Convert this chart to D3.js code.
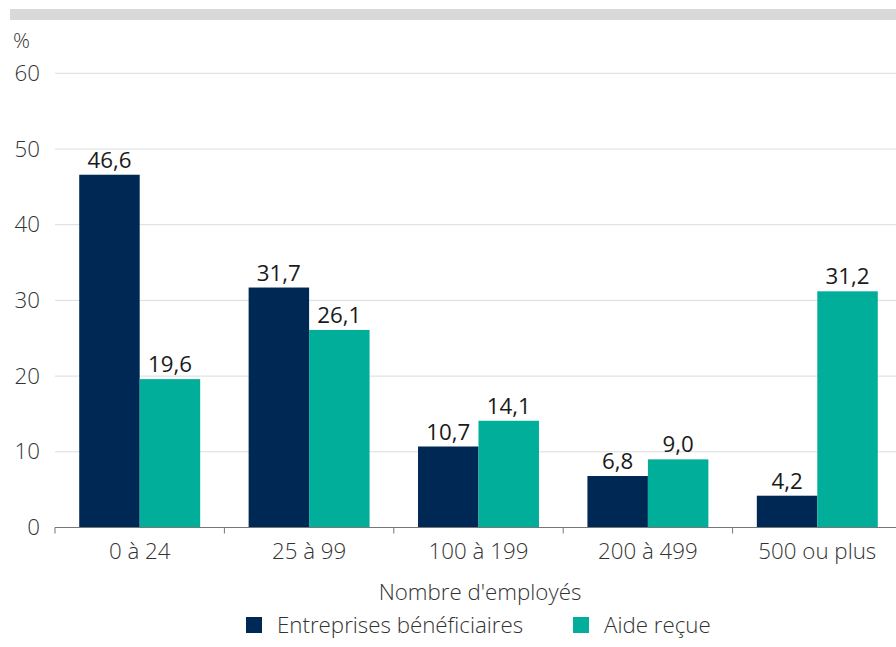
<!DOCTYPE html>
<html lang="fr">
<head>
<meta charset="utf-8">
<title>Aide par taille d'entreprise</title>
<style>
  body { margin: 0; background: #fff; }
  text { font-family: "Open Sans", sans-serif; font-weight: 300; }
</style>
</head>
<body>
<div id="chart"></div>
<script src="https://d3js.org/d3.v7.min.js"></script>
<script>
  var categories = ["0 à 24", "25 à 99", "100 à 199", "200 à 499", "500 ou plus"];
  var seriesNames = ["Entreprises bénéficiaires", "Aide reçue"];
  var entreprises = [46.6, 31.7, 10.7, 6.8, 4.2];
  var aide = [19.6, 26.1, 14.1, 9.0, 31.2];
  var yTicks = [0, 10, 20, 30, 40, 50, 60];
  var colors = ["#002855", "#00AE99"];

  var width = 896, height = 647;
  var fs = 22.3;

  var svg = d3.select("#chart").append("svg")
      .attr("width", width)
      .attr("height", height);

  // top grey band
  svg.append("rect")
      .attr("x", 10).attr("y", 9)
      .attr("width", width - 10).attr("height", 11)
      .attr("fill", "#d9d9d9");

  var x0 = d3.scaleBand()
      .domain(categories)
      .range([55, 902])
      .paddingInner(0.286)
      .paddingOuter(0.143);

  var x1 = d3.scaleBand()
      .domain([0, 1])
      .range([0, x0.bandwidth()]);

  var y = d3.scaleLinear()
      .domain([0, 60])
      .range([527.5, 73.3]);

  // gridlines
  svg.selectAll(".grid")
      .data(yTicks.filter(function (d) { return d > 0; }))
      .enter().append("line")
      .attr("x1", 55).attr("x2", width)
      .attr("y1", function (d) { return y(d); })
      .attr("y2", function (d) { return y(d); })
      .attr("stroke", "#dcdcdc")
      .attr("stroke-width", 1);

  // y labels
  svg.selectAll(".ylab")
      .data(yTicks)
      .enter().append("text")
      .attr("x", 40)
      .attr("y", function (d) { return y(d) + 7.5; })
      .attr("text-anchor", "end")
      .attr("font-size", fs)
      .attr("fill", "#333")
      .text(function (d) { return d; });

  svg.append("text")
      .attr("x", 13).attr("y", 48)
      .attr("font-size", 21)
      .attr("fill", "#333")
      .text("%");

  var data = categories.map(function (c, i) {
    return { cat: c, values: [entreprises[i], aide[i]] };
  });

  var groups = svg.selectAll(".grp")
      .data(data)
      .enter().append("g")
      .attr("transform", function (d) { return "translate(" + x0(d.cat) + ",0)"; });

  groups.selectAll("rect")
      .data(function (d) { return d.values; })
      .enter().append("rect")
      .attr("x", function (d, i) { return x1(i); })
      .attr("y", function (d) { return y(d); })
      .attr("width", x1.bandwidth())
      .attr("height", function (d) { return y(0) - y(d); })
      .attr("fill", function (d, i) { return colors[i]; });

  groups.selectAll(".val")
      .data(function (d) { return d.values; })
      .enter().append("text")
      .attr("x", function (d, i) { return x1(i) + x1.bandwidth() / 2; })
      .attr("y", function (d) { return y(d) - 7; })
      .attr("text-anchor", "middle")
      .attr("font-size", fs)
      .attr("fill", "#1a1a1a")
      .style("font-weight", 400)
      .text(function (d) { return d3.format(".1f")(d).replace(".", ","); });

  // x axis
  var xAxis = svg.append("g")
      .attr("transform", "translate(0," + y(0) + ")");

  xAxis.append("line")
      .attr("x1", 55).attr("x2", width)
      .attr("stroke", "#777").attr("stroke-width", 1.2);

  var boundaries = categories.map(function (c) { return x0(c) - x0.step() * 0.143; });
  xAxis.selectAll(".tick")
      .data(boundaries)
      .enter().append("line")
      .attr("x1", function (d) { return d; })
      .attr("x2", function (d) { return d; })
      .attr("y1", 0).attr("y2", 6)
      .attr("stroke", "#777");

  xAxis.selectAll(".xlab")
      .data(categories)
      .enter().append("text")
      .attr("x", function (d) { return x0(d) + x0.bandwidth() / 2; })
      .attr("y", 31)
      .attr("text-anchor", "middle")
      .attr("font-size", fs)
      .attr("fill", "#333")
      .text(function (d) { return d; });

  svg.append("text")
      .attr("x", 480).attr("y", 600)
      .attr("text-anchor", "middle")
      .attr("font-size", fs)
      .attr("fill", "#333")
      .text("Nombre d'employés");

  // legend
  var legendX = [246, 573];
  var legend = svg.selectAll(".leg")
      .data(seriesNames)
      .enter().append("g")
      .attr("transform", function (d, i) { return "translate(" + legendX[i] + ",617)"; });

  legend.append("rect")
      .attr("width", 16).attr("height", 16)
      .attr("fill", function (d, i) { return colors[i]; });

  legend.append("text")
      .attr("x", 31).attr("y", 16)
      .attr("font-size", fs)
      .attr("fill", "#333")
      .text(function (d) { return d; });
</script>
</body>
</html>
